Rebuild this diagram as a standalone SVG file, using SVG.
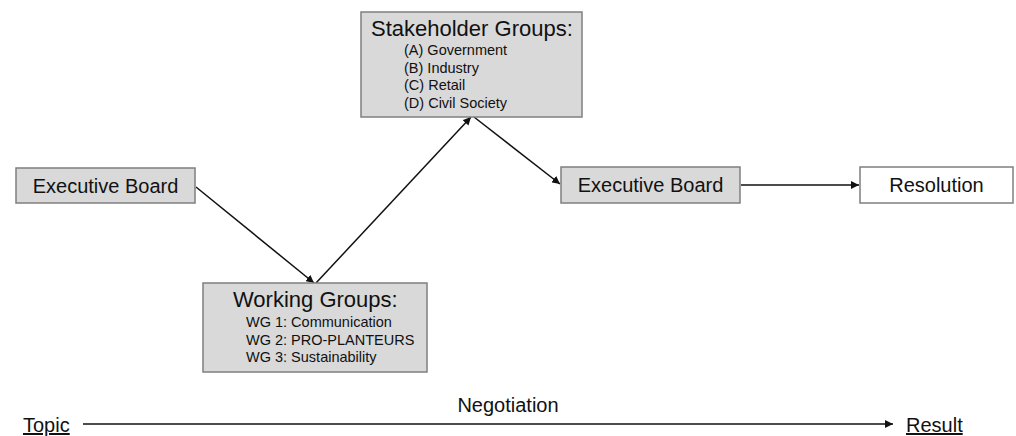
<svg xmlns="http://www.w3.org/2000/svg" width="1016" height="436" viewBox="0 0 1016 436">
<defs>
<style>
.box{fill:#d9d9d9;stroke:#7f7f7f;stroke-width:1.5}
.wbox{fill:#ffffff;stroke:#7f7f7f;stroke-width:1.5}
text{font-family:"Liberation Sans",Arial,sans-serif;fill:#111}
.big{font-size:20px}
.title{font-size:22px}
.item{font-size:14.5px}
.conn{stroke:#111;stroke-width:1.5;fill:none;marker-end:url(#ah)}
</style>
<marker id="ah" viewBox="0 0 10 10" refX="10" refY="5" markerWidth="8" markerHeight="8" markerUnits="userSpaceOnUse" orient="auto">
<path d="M0,0 L10,5 L0,10 z" fill="#111"/>
</marker>
</defs>
<rect width="1016" height="436" fill="#ffffff"/>
<g id="connectors">
<line class="conn" x1="196" y1="187" x2="314" y2="283"/>
<line class="conn" x1="316" y1="283" x2="471" y2="117"/>
<line class="conn" x1="474" y1="117" x2="560" y2="184"/>
<line class="conn" x1="741" y1="185" x2="859" y2="185"/>
<line class="conn" x1="83" y1="424" x2="893" y2="424"/>
</g>
<g id="exec1">
<rect class="box" x="16" y="168" width="179" height="35"/>
<text class="big" x="105.5" y="193" text-anchor="middle">Executive Board</text>
</g>
<g id="working">
<rect class="box" x="203" y="283" width="224" height="89"/>
<text class="title" x="233" y="307">Working Groups:</text>
<text class="item" x="246" y="327">WG 1: Communication</text>
<text class="item" x="246" y="344.5">WG 2: PRO-PLANTEURS</text>
<text class="item" x="246" y="362">WG 3: Sustainability</text>
</g>
<g id="stakeholder">
<rect class="box" x="361" y="12" width="221" height="105"/>
<text class="title" x="371" y="36">Stakeholder Groups:</text>
<text class="item" x="404" y="55">(A) Government</text>
<text class="item" x="404" y="72.5">(B) Industry</text>
<text class="item" x="404" y="90">(C) Retail</text>
<text class="item" x="404" y="107.5">(D) Civil Society</text>
</g>
<g id="exec2">
<rect class="box" x="561" y="167" width="179" height="36"/>
<text class="big" x="650.5" y="192" text-anchor="middle">Executive Board</text>
</g>
<g id="resolution">
<rect class="wbox" x="860" y="167" width="153" height="36"/>
<text class="big" x="936.5" y="192" text-anchor="middle">Resolution</text>
</g>
<g id="axis">
<text class="big" x="23" y="432" text-decoration="underline">Topic</text>
<text class="big" x="508" y="412" text-anchor="middle">Negotiation</text>
<text class="big" x="906" y="432" text-decoration="underline">Result</text>
</g>
</svg>
